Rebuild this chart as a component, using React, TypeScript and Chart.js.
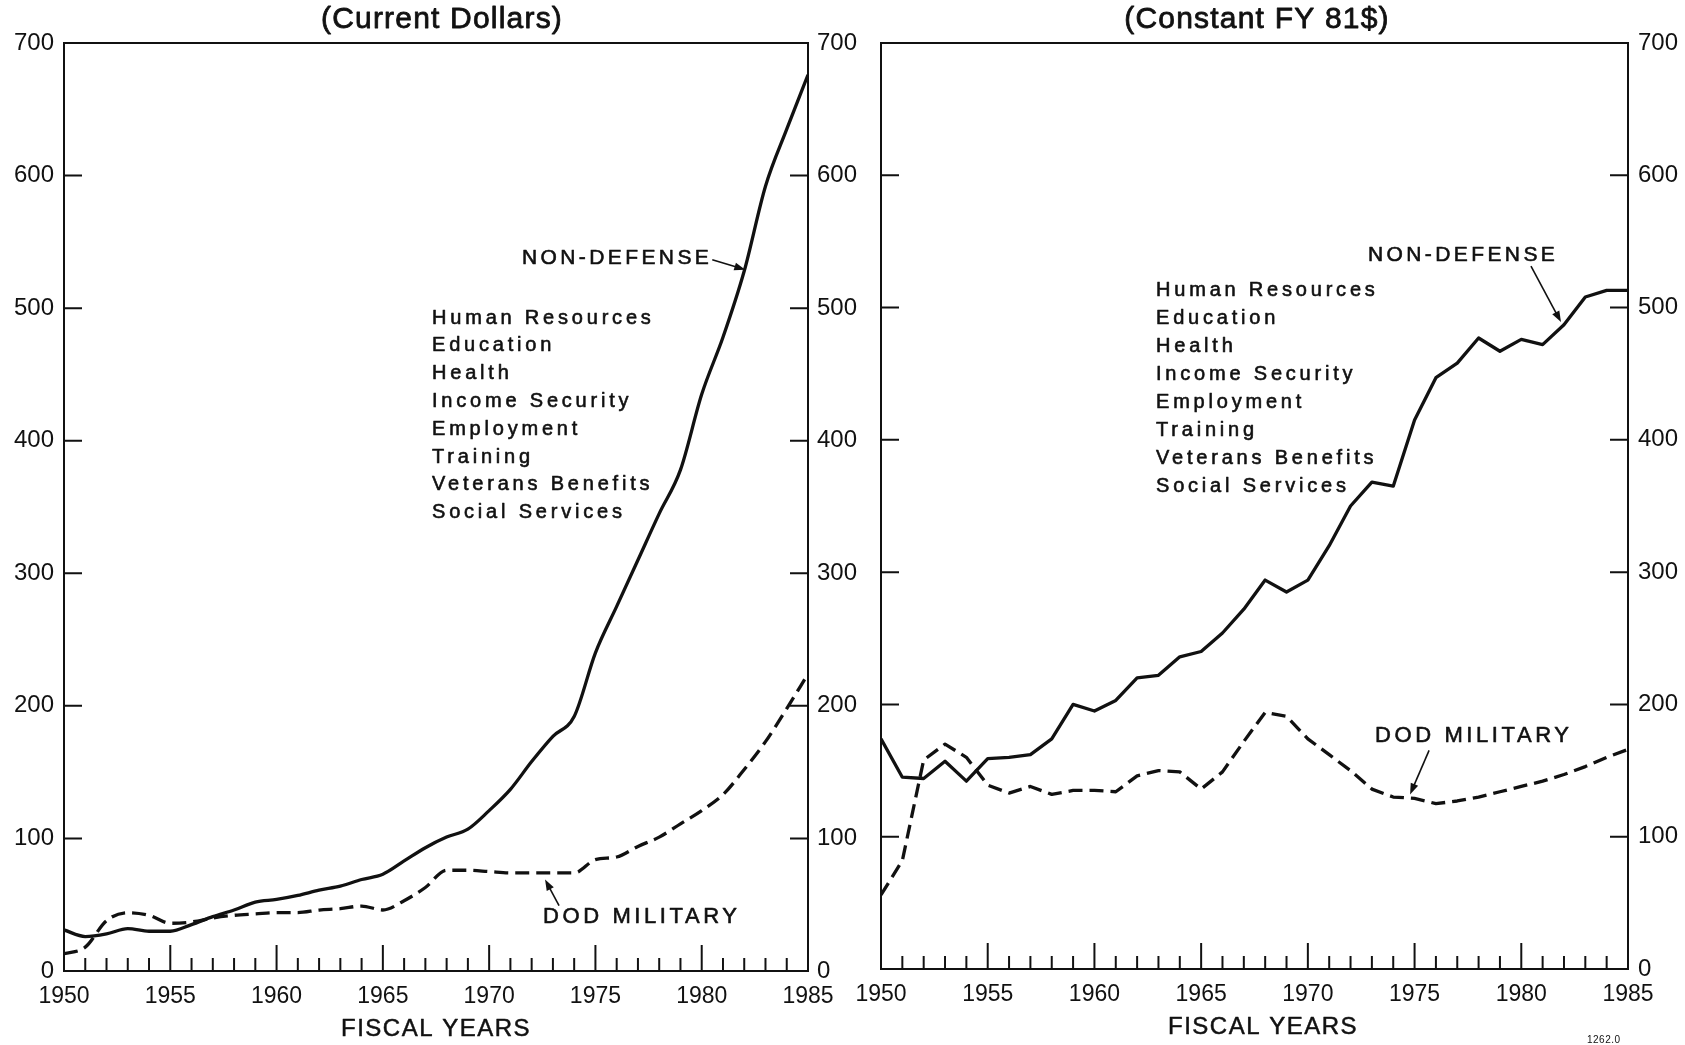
import React, { useEffect, useRef } from 'react';
import { Chart, registerables } from 'chart.js';

Chart.register(...registerables);

// ---------- data ----------
const YEARS = [
  1950, 1951, 1952, 1953, 1954, 1955, 1956, 1957, 1958, 1959,
  1960, 1961, 1962, 1963, 1964, 1965, 1966, 1967, 1968, 1969,
  1970, 1971, 1972, 1973, 1974, 1975, 1976, 1977, 1978, 1979,
  1980, 1981, 1982, 1983, 1984, 1985,
];

// Current dollars ($ billions)
const CURRENT_NON_DEFENSE = [
  31, 26, 28, 32, 30, 30, 35, 41, 46, 52,
  54, 57, 61, 64, 69, 73, 83, 93, 101, 107,
  121, 137, 158, 177, 192, 240, 275, 310, 345, 378,
  435, 478, 528, 592, 635, 676,
];
const CURRENT_DOD_MILITARY = [
  13, 18, 38, 44, 42, 36, 37, 40, 42, 43,
  44, 44, 46, 47, 49, 46, 53, 63, 76, 76,
  75, 74, 74, 74, 74, 84, 86, 94, 101, 111,
  121, 133, 152, 173, 198, 224,
];

// Constant FY 81 dollars ($ billions)
const CONSTANT_NON_DEFENSE = [
  174, 145, 144, 157, 142, 159, 160, 162, 174, 200,
  195, 203, 220, 222, 236, 240, 254, 272, 294, 285,
  294, 320, 350, 368, 365, 415, 447, 458, 477, 467,
  476, 472, 487, 508, 513, 513,
];
const CONSTANT_DOD_MILITARY = [
  56, 82, 158, 170, 160, 139, 133, 138, 132, 135,
  135, 134, 146, 150, 149, 136, 149, 172, 194, 191,
  174, 162, 150, 136, 130, 129, 125, 127, 130, 134,
  138, 142, 147, 153, 160, 166,
];

const Y_TICKS = [0, 100, 200, 300, 400, 500, 600, 700];
const X_TICK_LABELS = [1950, 1955, 1960, 1965, 1970, 1975, 1980, 1985];
const NON_DEFENSE_COMPONENTS = [
  'Human Resources',
  'Education',
  'Health',
  'Income Security',
  'Employment',
  'Training',
  'Veterans Benefits',
  'Social Services',
];

// ---------- style ----------
const FONT = '"Liberation Sans", Arial, Helvetica, sans-serif';
const INK = '#111111';
const PAGE_W = 1685;
const PAGE_H = 1045;

function drawText(
  ctx: CanvasRenderingContext2D,
  text: string,
  x: number,
  y: number,
  size: number,
  spacing: number,
  align: CanvasTextAlign = 'left',
  heavy = 0.5
) {
  ctx.save();
  ctx.font = `normal ${size}px ${FONT}`;
  (ctx as any).letterSpacing = `${spacing}px`;
  ctx.textAlign = align;
  ctx.textBaseline = 'middle';
  ctx.fillStyle = INK;
  ctx.fillText(text, x, y);
  if (heavy > 0) {
    ctx.strokeStyle = INK;
    ctx.lineWidth = heavy;
    ctx.lineJoin = 'round';
    ctx.strokeText(text, x, y);
  }
  ctx.restore();
}

function drawArrow(ctx: CanvasRenderingContext2D, x1: number, y1: number, x2: number, y2: number) {
  ctx.save();
  ctx.strokeStyle = INK;
  ctx.fillStyle = INK;
  ctx.lineWidth = 1.6;
  const a = Math.atan2(y2 - y1, x2 - x1);
  const L = 11;
  const W = 4;
  ctx.beginPath();
  ctx.moveTo(x1, y1);
  ctx.lineTo(x2 - L * 0.6 * Math.cos(a), y2 - L * 0.6 * Math.sin(a));
  ctx.stroke();
  ctx.beginPath();
  ctx.moveTo(x2, y2);
  ctx.lineTo(x2 - L * Math.cos(a) + W * Math.sin(a), y2 - L * Math.sin(a) - W * Math.cos(a));
  ctx.lineTo(x2 - L * Math.cos(a) - W * Math.sin(a), y2 - L * Math.sin(a) + W * Math.cos(a));
  ctx.closePath();
  ctx.fill();
  ctx.restore();
}

type ArrowSpec = { year: number; value: number; dx: number; dy: number };

type PanelDecor = {
  offsetX: number; // page x of canvas left
  title: string;
  titleX: number;
  axisTitleX: number;
  axisTitleY: number;
  ndLabel: { x: number; y: number };
  block: { x: number; y: number; step: number };
  dodLabel: { x: number; y: number };
  ndArrow: ArrowSpec;
  dodArrow: ArrowSpec;
  footnote?: { text: string; x: number; y: number };
};

function makeDecorPlugin(d: PanelDecor) {
  return {
    id: 'panelDecor',
    afterDraw(chart: any) {
      const ctx: CanvasRenderingContext2D = chart.ctx;
      const { left, right, top, bottom } = chart.chartArea;
      const xs = chart.scales.x;
      const ys = chart.scales.y;
      const ox = d.offsetX;

      ctx.save();
      // frame
      ctx.strokeStyle = INK;
      ctx.lineWidth = 2;
      ctx.strokeRect(left, top, right - left, bottom - top);

      // inward x ticks (yearly, longer every 5 years)
      ctx.lineWidth = 2;
      YEARS.forEach((yr) => {
        const px = xs.getPixelForValue(yr);
        const len = yr % 5 === 0 ? 26 : 13;
        ctx.beginPath();
        ctx.moveTo(px, bottom);
        ctx.lineTo(px, bottom - len);
        ctx.stroke();
      });
      // inward y ticks on both sides
      Y_TICKS.forEach((v) => {
        const py = ys.getPixelForValue(v);
        ctx.beginPath();
        ctx.moveTo(left, py);
        ctx.lineTo(left + 18, py);
        ctx.moveTo(right - 18, py);
        ctx.lineTo(right, py);
        ctx.stroke();
      });
      ctx.restore();

      // titles
      drawText(ctx, d.title, d.titleX - ox, 20, 30, 1.2, 'center', 0.8);
      drawText(ctx, 'FISCAL YEARS', d.axisTitleX - ox, d.axisTitleY, 24, 1.5, 'center', 0.5);

      // annotations
      drawText(ctx, 'NON-DEFENSE', d.ndLabel.x - ox, d.ndLabel.y, 21, 3.4, 'left', 0.6);
      NON_DEFENSE_COMPONENTS.forEach((t, i) => {
        drawText(ctx, t, d.block.x - ox, d.block.y + i * d.block.step, 20, 3.8, 'left', 0.6);
      });
      drawText(ctx, 'DOD MILITARY', d.dodLabel.x - ox, d.dodLabel.y, 22, 3.6, 'left', 0.6);

      [d.ndArrow, d.dodArrow].forEach((a) => {
        const hx = xs.getPixelForValue(a.year);
        const hy = ys.getPixelForValue(a.value);
        drawArrow(ctx, hx + a.dx, hy + a.dy, hx, hy);
      });

      if (d.footnote) {
        drawText(ctx, d.footnote.text, d.footnote.x - ox, d.footnote.y, 10, 0.5, 'left', 0);
      }
    },
  };
}

type PanelSpec = {
  canvas: HTMLCanvasElement;
  nonDefense: number[];
  dod: number[];
  smooth: boolean;
  padLeft: number;
  leftLabels: boolean;
  yLeftWidth: number;
  yRightWidth: number;
  xHeight: number;
  decor: PanelDecor;
};

function buildPanel(p: PanelSpec) {
  const tickFont = { family: FONT, size: 24 };
  const yBase = {
    type: 'linear',
    min: 0,
    max: 700,
    grid: { display: false, drawTicks: false },
    border: { display: false },
    afterBuildTicks: (s: any) => {
      s.ticks = Y_TICKS.map((v) => ({ value: v }));
    },
    ticks: {
      color: INK,
      font: tickFont,
      padding: 10,
      autoSkip: false,
      callback: (v: any) => String(v),
    },
  };

  const scales: any = {
    x: {
      type: 'linear',
      position: 'bottom',
      min: YEARS[0],
      max: YEARS[YEARS.length - 1],
      grid: { display: false, drawTicks: false },
      border: { display: false },
      afterBuildTicks: (s: any) => {
        s.ticks = X_TICK_LABELS.map((v) => ({ value: v }));
      },
      ticks: {
        color: INK,
        font: { family: FONT, size: 23 },
        padding: 12,
        autoSkip: false,
        maxRotation: 0,
        callback: (v: any) => String(v),
      },
      afterFit: (s: any) => {
        s.height = p.xHeight;
      },
    },
  };

  if (p.leftLabels) {
    scales.y = {
      ...yBase,
      position: 'left',
      afterFit: (s: any) => {
        s.width = p.yLeftWidth;
      },
    };
    scales.y2 = {
      ...yBase,
      position: 'right',
      ticks: { ...yBase.ticks, padding: 9 },
      afterFit: (s: any) => {
        s.width = p.yRightWidth;
      },
    };
  } else {
    scales.y = {
      ...yBase,
      position: 'right',
      afterFit: (s: any) => {
        s.width = p.yRightWidth;
      },
    };
  }

  const lineBase = {
    borderColor: INK,
    borderWidth: 3.3,
    pointRadius: 0,
    fill: false,
    yAxisID: 'y',
    cubicInterpolationMode: p.smooth ? 'monotone' : 'default',
    tension: 0,
    borderJoinStyle: 'round',
  };

  return new Chart(p.canvas, {
    type: 'line',
    data: {
      datasets: [
        {
          ...lineBase,
          label: 'NON-DEFENSE',
          data: YEARS.map((yr, i) => ({ x: yr, y: p.nonDefense[i] })),
        },
        {
          ...lineBase,
          label: 'DOD MILITARY',
          borderDash: [14, 7],
          borderCapStyle: 'butt',
          data: YEARS.map((yr, i) => ({ x: yr, y: p.dod[i] })),
        },
      ],
    } as any,
    options: {
      responsive: false,
      animation: false,
      events: [],
      layout: { padding: { top: 43, left: p.padLeft, right: 0, bottom: 0 } },
      plugins: {
        legend: { display: false },
        tooltip: { enabled: false },
        title: { display: false },
      },
      scales,
    } as any,
    plugins: [makeDecorPlugin(p.decor)],
  });
}

const LEFT_CANVAS = { left: 0, width: 870 };
const RIGHT_CANVAS = { left: 840, width: 845 };

export default function App() {
  const leftRef = useRef<HTMLCanvasElement>(null);
  const rightRef = useRef<HTMLCanvasElement>(null);

  useEffect(() => {
    if (!leftRef.current || !rightRef.current) return;
    const c1 = buildPanel({
      canvas: leftRef.current,
      nonDefense: CURRENT_NON_DEFENSE,
      dod: CURRENT_DOD_MILITARY,
      smooth: true,
      padLeft: 0,
      leftLabels: true,
      yLeftWidth: 64,
      yRightWidth: LEFT_CANVAS.width - 808,
      xHeight: PAGE_H - 971,
      decor: {
        offsetX: LEFT_CANVAS.left,
        title: '(Current Dollars)',
        titleX: 442,
        axisTitleX: 436,
        axisTitleY: 1029,
        ndLabel: { x: 522, y: 258 },
        block: { x: 432, y: 318, step: 27.8 },
        dodLabel: { x: 543, y: 917 },
        ndArrow: { year: 1982.05, value: 529, dx: -33, dy: -10 },
        dodArrow: { year: 1972.63, value: 69, dx: 14, dy: 26 },
      },
    });
    const c2 = buildPanel({
      canvas: rightRef.current,
      nonDefense: CONSTANT_NON_DEFENSE,
      dod: CONSTANT_DOD_MILITARY,
      smooth: false,
      padLeft: 881 - RIGHT_CANVAS.left,
      leftLabels: false,
      yLeftWidth: 0,
      yRightWidth: RIGHT_CANVAS.left + RIGHT_CANVAS.width - 1628,
      xHeight: PAGE_H - 969,
      decor: {
        offsetX: RIGHT_CANVAS.left,
        title: '(Constant FY 81$)',
        titleX: 1257,
        axisTitleX: 1263,
        axisTitleY: 1027,
        ndLabel: { x: 1368, y: 255 },
        block: { x: 1156, y: 290, step: 28 },
        dodLabel: { x: 1375, y: 736 },
        ndArrow: { year: 1981.86, value: 489, dx: -30, dy: -56 },
        dodArrow: { year: 1974.79, value: 132, dx: 19, dy: -44 },
        footnote: { text: '1262.0', x: 1587, y: 1040 },
      },
    });
    return () => {
      c1.destroy();
      c2.destroy();
    };
  }, []);

  return (
    <div
      style={{
        position: 'absolute',
        left: 0,
        top: 0,
        width: PAGE_W,
        height: PAGE_H,
        background: '#ffffff',
        overflow: 'hidden',
      }}
    >
      <canvas
        ref={leftRef}
        width={LEFT_CANVAS.width}
        height={PAGE_H}
        style={{ position: 'absolute', left: LEFT_CANVAS.left, top: 0, width: LEFT_CANVAS.width, height: PAGE_H }}
      />
      <canvas
        ref={rightRef}
        width={RIGHT_CANVAS.width}
        height={PAGE_H}
        style={{ position: 'absolute', left: RIGHT_CANVAS.left, top: 0, width: RIGHT_CANVAS.width, height: PAGE_H }}
      />
    </div>
  );
}
